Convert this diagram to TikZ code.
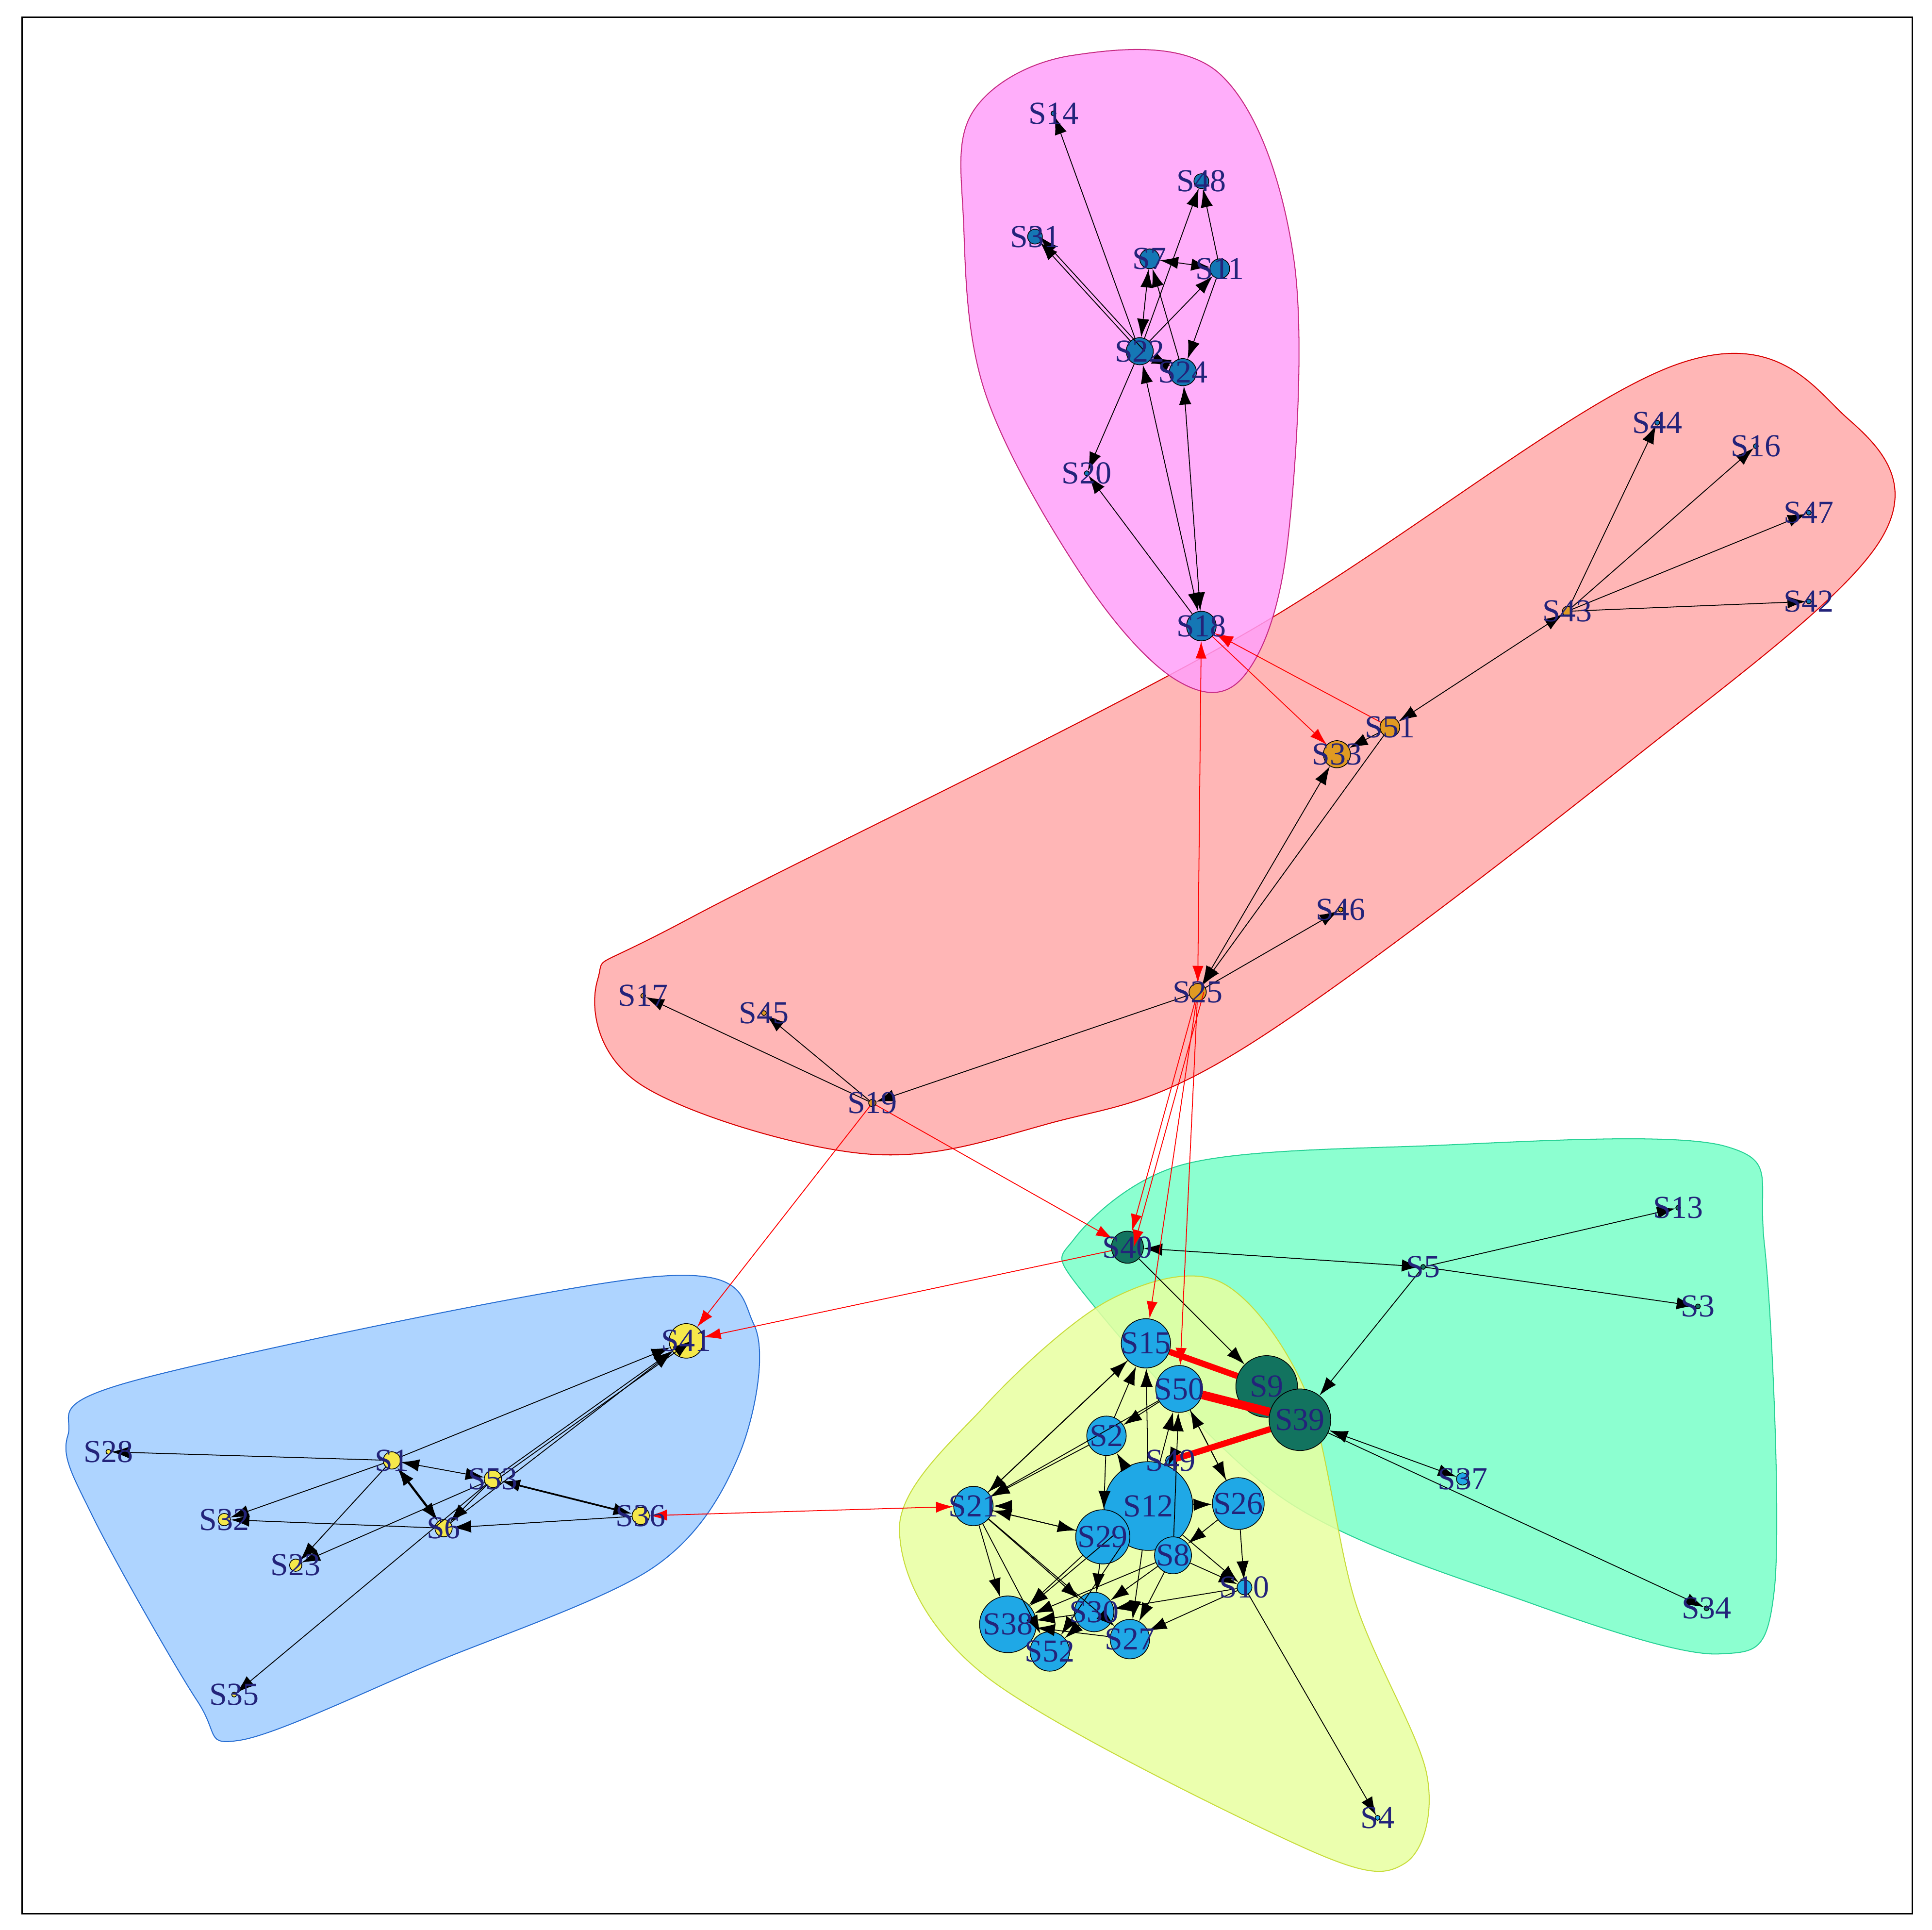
\documentclass[tikz,border=0pt]{standalone}
\usepackage{fontspec}
\setmainfont{Liberation Serif}
\usetikzlibrary{arrows.meta}
\definecolor{lab}{HTML}{23237A}
\definecolor{vpink}{HTML}{1577B5}
\definecolor{vor}{HTML}{E09A22}
\definecolor{vgr}{HTML}{12735F}
\definecolor{vbl}{HTML}{1FA8E6}
\definecolor{vye}{HTML}{F5E84A}
\newcommand\mkv[6]{\node[circle,draw=black,line width=0.6pt,fill=#5,minimum size=#4pt,inner sep=0pt] (#1) at (#2,#3) {};}
\begin{document}
\begin{tikzpicture}[x=1pt,y=-1pt,
  lab/.style={text=lab,font=\fontsize{26}{26}\selectfont,inner sep=0pt},
  e/.style={-{Latex[length=15pt,width=10pt]},line width=0.7pt,black},
  b/.style={{Latex[length=15pt,width=10pt]}-{Latex[length=15pt,width=10pt]},line width=0.7pt,black},
  r/.style={-{Latex[length=14pt,width=9pt]},line width=0.7pt,red},
  rb/.style={{Latex[length=14pt,width=9pt]}-{Latex[length=14pt,width=9pt]},line width=0.7pt,red},
  hull/.style={line width=0.8pt,fill opacity=0.85}]
\useasboundingbox (0,0) rectangle (1568,1566);
\fill[white] (0,0) rectangle (1568,1566);
% hulls
\draw[hull,draw=red!85!black,fill={rgb,255:red,255;green,170;blue,170}] plot[smooth cycle,tension=0.6] coordinates {(485,795) (560,745) (1000,520) (1360,296) (1500,340) (1525,440) (1320,620) (1010,850) (850,912) (700,936) (520,880)};
\draw[hull,draw=magenta!80!black,fill={rgb,255:red,255;green,160;blue,250}] plot[smooth cycle,tension=0.6] coordinates {(790,90) (870,45) (990,60) (1050,210) (1045,440) (1010,548) (955,552) (880,470) (800,320) (782,180)};
\draw[hull,draw={rgb,255:red,40;green,210;blue,150},fill={rgb,255:red,120;green,255;blue,200}] plot[smooth cycle,tension=0.55] coordinates {(872,1005) (960,945) (1150,930) (1400,930) (1432,1010) (1440,1290) (1395,1342) (1240,1300) (1040,1215) (880,1050)};
\draw[hull,draw={rgb,255:red,200;green,220;blue,60},fill={rgb,255:red,232;green,255;blue,160}] plot[smooth cycle,tension=0.55] coordinates {(730,1240) (800,1140) (900,1055) (990,1040) (1060,1130) (1100,1300) (1158,1440) (1140,1512) (1060,1500) (800,1360)};
\draw[hull,draw={rgb,255:red,40;green,110;blue,210},fill={rgb,255:red,160;green,205;blue,255}] plot[smooth cycle,tension=0.55] coordinates {(55,1165) (110,1120) (530,1036) (612,1075) (600,1180) (530,1272) (350,1350) (195,1412) (160,1380) (75,1230)};
\draw[line width=1.2pt] (18,14) rectangle (1552,1553);
% vertices
\mkv{s14}{855}{92}{4}{vpink}{}
\mkv{s48}{975}{147}{12}{vpink}{}
\mkv{s31}{840}{192}{12}{vpink}{}
\mkv{s7}{933}{210}{16}{vpink}{}
\mkv{s11}{990}{218}{16}{vpink}{}
\mkv{s22}{925}{285}{22}{vpink}{}
\mkv{s24}{960}{302}{22}{vpink}{}
\mkv{s20}{882}{384}{4}{vpink}{}
\mkv{s18}{975}{508}{24}{vpink}{}
\mkv{s44}{1345}{343}{4}{vpink}{}
\mkv{s16}{1425}{362}{4}{vpink}{}
\mkv{s47}{1468}{416}{4}{vpink}{}
\mkv{s42}{1468}{488}{4}{vpink}{}
\mkv{s43}{1272}{496}{8}{vor}{}
\mkv{s51}{1128}{590}{16}{vor}{}
\mkv{s33}{1085}{612}{22}{vor}{}
\mkv{s46}{1088}{738}{4}{vor}{}
\mkv{s25}{972}{805}{14}{vor}{}
\mkv{s17}{522}{808}{4}{vor}{}
\mkv{s45}{620}{822}{4}{vor}{}
\mkv{s19}{708}{895}{6}{vor}{}
\mkv{s13}{1362}{980}{4}{vgr}{}
\mkv{s40}{915}{1012}{26}{vgr}{}
\mkv{s5}{1155}{1028}{4}{vgr}{}
\mkv{s3}{1378}{1060}{4}{vgr}{}
\mkv{s9}{1028}{1125}{50}{vgr}{}
\mkv{s39}{1055}{1152}{50}{vgr}{}
\mkv{s37}{1187}{1200}{10}{vbl}{}
\mkv{s34}{1385}{1305}{4}{vgr}{}
\mkv{s15}{930}{1090}{40}{vbl}{}
\mkv{s2}{898}{1165}{32}{vbl}{}
\mkv{sx}{950}{1185}{8}{vbl}{}
\mkv{s12}{932}{1222}{72}{vbl}{}
\mkv{s50}{957}{1127}{38}{vbl}{}
\mkv{s26}{1005}{1220}{42}{vbl}{}
\mkv{s29}{895}{1247}{44}{vbl}{}
\mkv{s8}{952}{1262}{30}{vbl}{}
\mkv{s21}{790}{1222}{32}{vbl}{}
\mkv{s10}{1010}{1288}{12}{vbl}{}
\mkv{s38}{818}{1318}{46}{vbl}{}
\mkv{s30}{888}{1308}{32}{vbl}{}
\mkv{s52}{852}{1340}{32}{vbl}{}
\mkv{s27}{917}{1330}{32}{vbl}{}
\mkv{s4}{1118}{1475}{4}{vbl}{}
\mkv{s41}{557}{1088}{28}{vye}{}
\mkv{s28}{88}{1178}{4}{vye}{}
\mkv{s1}{318}{1185}{14}{vye}{}
\mkv{s53}{400}{1200}{14}{vye}{}
\mkv{s32}{182}{1233}{10}{vye}{}
\mkv{s6}{360}{1240}{14}{vye}{}
\mkv{s36}{520}{1230}{14}{vye}{}
\mkv{s23}{240}{1270}{10}{vye}{}
\mkv{s35}{190}{1375}{4}{vye}{}
% black edges
\draw[e] (s22)--(s14); \draw[e] (s22)--(s31); \draw[e] ([xshift=4pt]s22.center)--([xshift=4pt]s31.center);
\draw[e] (s22)--(s48); \draw[e] (s11)--(s48); \draw[b] (s7)--(s11);
\draw[b] (s22)--(s7); \draw[e] (s24)--(s7); \draw[e] (s11)--(s24); \draw[e] (s22)--(s11);
\draw[b] (s22)--(s24); \draw[e] (s22)--(s20); \draw[b] (s18)--(s22); \draw[b] (s18)--(s24); \draw[e] (s18)--(s20);
\draw[b] (s51)--(s43); \draw[e] (s43)--(s44); \draw[e] (s43)--(s16); \draw[e] (s43)--(s47); \draw[e] (s43)--(s42);
\draw[b] (s33)--(s25); \draw[e] (s51)--(s25); \draw[e] (s51)--(s33); \draw[e] (s25)--(s46); \draw[e] (s25)--(s19);
\draw[e] (s19)--(s17); \draw[e] (s19)--(s45);
\draw[e] (s5)--(s13); \draw[e] (s5)--(s3); \draw[b] (s5)--(s40); \draw[e] (s5)--(s39);
\draw[e] (s40)--(s9); \draw[b] (s39)--(s37); \draw[e] (s39)--(s34);
\draw[e] (s10)--(s4); \draw[e] (s10)--(s27);
% cluster
\foreach \a in {s15,s2,s12,s29,s50} \draw[e] (\a)--(s21);
\foreach \b in {s38,s52,s30,s27,s29} \draw[e] (s21)--(\b);
\draw[e] (s21)--(s15);
\foreach \a/\b in {s12/s15,s12/s50,s2/s15,s8/s50,s12/s2,s26/s50,s12/s26,s26/s10,s12/s10,s8/s10,s29/s38,s12/s38,s8/s30,s12/s52,s29/s30,s8/s27,s12/s27,s30/s38,s27/s38,s26/s8,sx/s12,s50/s2,s30/s52,s2/s29,s50/s26,s8/s38,s10/s30}
  \draw[e] (\a)--(\b);
% blue
\draw[e] (s1)--(s28); \draw[e] (s1)--(s32); \draw[e] (s1)--(s23); \draw[b] (s1)--(s53);
\draw[b,line width=1.8pt] (s1)--(s6); \draw[e] (s53)--(s6); \draw[e] (s36)--(s6); \draw[b,line width=1.4pt] (s36)--(s53);
\draw[e] (s6)--(s41); \draw[e] (s53)--(s41); \draw[e] ([xshift=4pt]s53.center)--([xshift=4pt]s41.center); \draw[e] (s1)--(s41);
\draw[e] (s6)--(s32); \draw[e] (s53)--(s23); \draw[e] (s53)--(s35);
% red edges
\draw[rb] (s18)--(s25); \draw[e,red] (s51)--(s18); \draw[r] (s18)--(s33);
\draw[r] (s25)--(s40); \draw[r] ([xshift=5pt]s25.center)--([xshift=5pt]s40.center); \draw[r] (s25)--(s15);
\draw[r] (s25)--(s50); \draw[r] (s19)--(s40); \draw[r] (s19)--(s41); \draw[r] (s40)--(s41);
\draw[rb] (s36)--(s21);
\draw[red,line width=7pt] (s39)--(s50); \draw[red,line width=5pt] (s9)--(s15); \draw[red,line width=5pt] (s39)--(sx);
% labels
\foreach \n/\t in {s14/S14,s48/S48,s31/S31,s7/S7,s11/S11,s22/S22,s24/S24,s20/S20,s18/S18,s44/S44,s16/S16,s47/S47,s42/S42,s43/S43,s51/S51,s33/S33,s46/S46,s25/S25,s17/S17,s45/S45,s19/S19,s13/S13,s40/S40,s5/S5,s3/S3,s9/S9,s39/S39,s37/S37,s34/S34,s15/S15,s2/S2,sx/S49,s12/S12,s50/S50,s26/S26,s29/S29,s8/S8,s21/S21,s10/S10,s38/S38,s30/S30,s52/S52,s27/S27,s4/S4,s41/S41,s28/S28,s1/S1,s53/S53,s32/S32,s6/S6,s36/S36,s23/S23,s35/S35}
  \node[lab] at (\n) {\t};
\end{tikzpicture}
\end{document}
